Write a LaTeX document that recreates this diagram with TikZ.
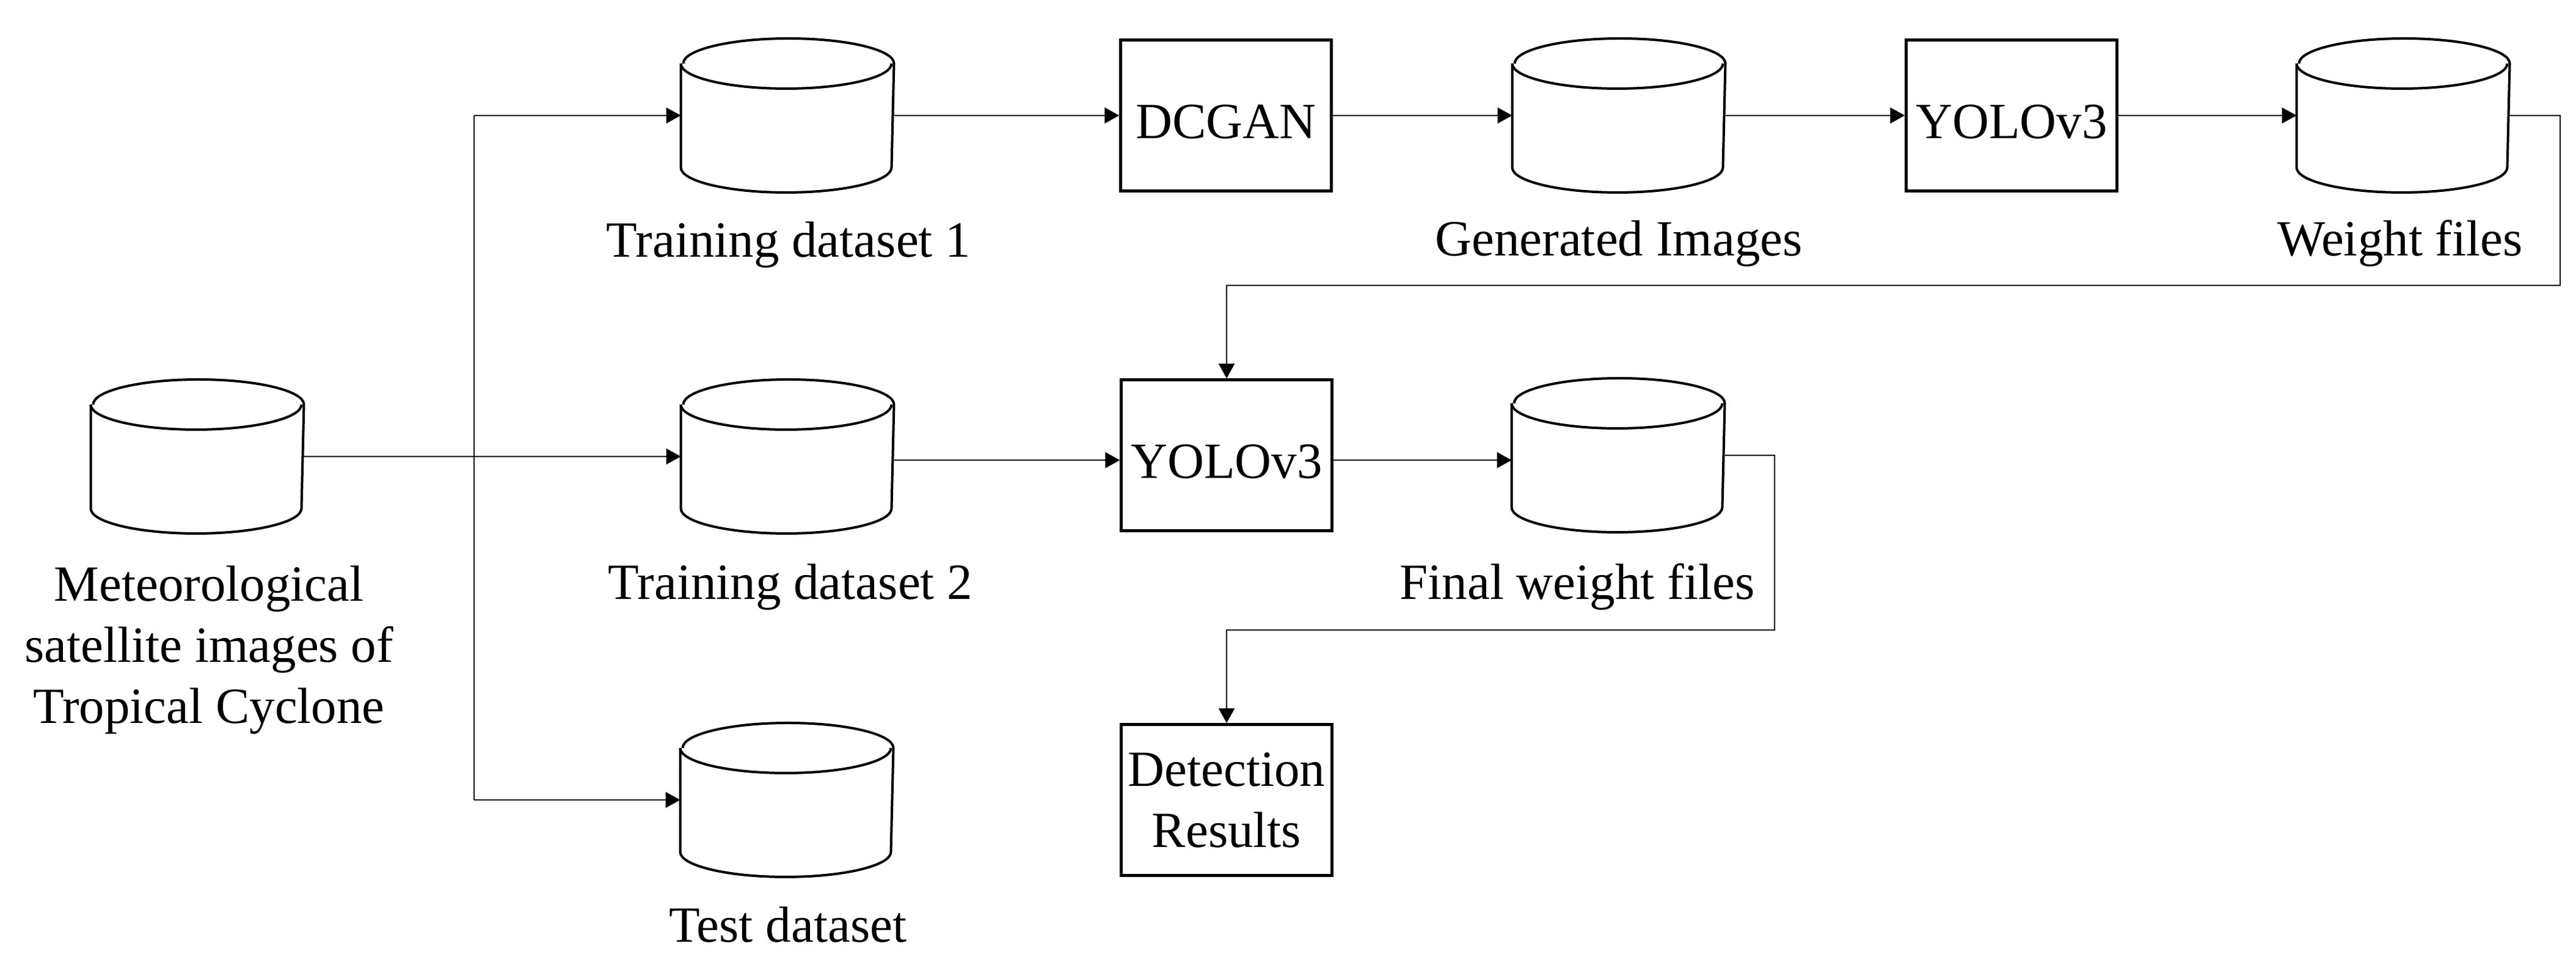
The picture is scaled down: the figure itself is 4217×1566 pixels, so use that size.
\documentclass[tikz,border=0pt]{standalone}
\usepackage{fontspec}
\setmainfont{Liberation Serif}
\usetikzlibrary{arrows.meta}
\tikzset{
  every node/.style={font=\fontsize{8.3pt}{10pt}\selectfont, inner sep=0pt},
  dbnode/.style={draw=none, minimum width=34.5pt, minimum height=24.8pt},
  procbox/.style={draw, line width=0.45pt, minimum width=34.5pt, minimum height=24.7pt},
  lowtext/.style={text height=7.5pt, text depth=0pt},
  lbl/.style={anchor=base},
  conn/.style={line width=0.2pt, -{Triangle[length=2.4pt,width=2.6pt]}},
  plainline/.style={line width=0.2pt},
  cylline/.style={line width=0.4pt},
}
\newcommand\drawcyl[1]{%
  \draw[cylline] ([yshift=-4.1pt]#1.north west) -- ([yshift=4.1pt]#1.south west)
     arc[start angle=180,end angle=360,x radius=17.25pt,y radius=4.1pt]
     -- ([yshift=-4.1pt]#1.north east)
     arc[start angle=0,end angle=180,x radius=17.25pt,y radius=4.1pt];
  \draw[cylline] ([yshift=-4.1pt]#1.north west)
     arc[start angle=180,end angle=360,x radius=17.25pt,y radius=4.1pt];
}
\begin{document}
\begin{tikzpicture}[x=0.1pt,y=-0.1pt]
\path[use as bounding box] (0,0) rectangle (4217,1566);
% databases
\node[dbnode] (met) at (323,747) {};
\node[dbnode] (td1) at (1289,189) {};
\node[dbnode] (gi) at (2650,189) {};
\node[dbnode] (wf) at (3934,189) {};
\node[dbnode] (td2) at (1289,747) {};
\node[dbnode] (fwf) at (2649,745) {};
\node[dbnode] (test) at (1288,1309) {};
\drawcyl{met}\drawcyl{td1}\drawcyl{gi}\drawcyl{wf}\drawcyl{td2}\drawcyl{fwf}\drawcyl{test}
% process boxes
\node[procbox,lowtext] (dcgan) at (2007,189) {DCGAN};
\node[procbox,lowtext] (yolo1) at (3293,189) {YOLOv3};
\node[procbox,lowtext] (yolo2) at (2008,745) {YOLOv3};
\node[procbox,align=center] (det) at (2008,1309) {Detection\\Results};
% labels
\node[align=center] (metl) at (342,1064) {Meteorological\\satellite images of\\Tropical Cyclone};
\node[lbl] (td1l) at (1291,421) {Training dataset 1};
\node[lbl] (gil) at (2650,419) {Generated Images};
\node[lbl] (wfl) at (3929,419) {Weight files};
\node[lbl] (td2l) at (1294,981) {Training dataset 2};
\node[lbl] (fwfl) at (2582,981) {Final weight files};
\node[lbl] (testl) at (1290,1542) {Test dataset};
% connectors
\coordinate (trunk) at (776,747);
\coordinate (row2) at (0,753);
\coordinate (r1) at (4191,467);
\coordinate (r2) at (2905,1031);
\draw[plainline] (td1.west -| trunk) -- (test.west -| trunk);
\draw[conn] (td1.west -| trunk) -- (td1.west);
\draw[conn] (test.west -| trunk) -- (test.west);
\draw[conn] (met.east) -- (td2.west);
\draw[conn] (td1.east) -- (dcgan.west);
\draw[conn] (dcgan.east) -- (gi.west);
\draw[conn] (gi.east) -- (yolo1.west);
\draw[conn] (yolo1.east) -- (wf.west);
\draw[conn] (wf.east) -| (r1) -| (yolo2.north);
\draw[conn] (td2.east |- row2) -- (yolo2.west |- row2);
\draw[conn] (yolo2.east |- row2) -- (fwf.west |- row2);
\draw[conn] (fwf.east) -| (r2) -| (det.north);
\end{tikzpicture}
\end{document}
